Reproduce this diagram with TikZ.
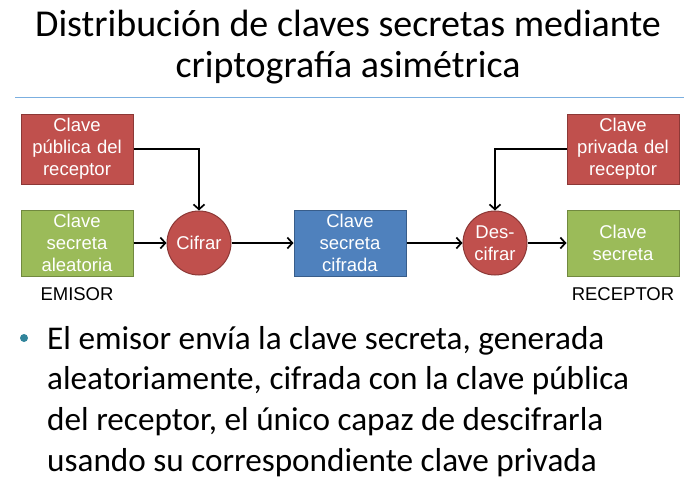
\documentclass[tikz,border=0pt]{standalone}
\usepackage{fontspec}
\setmainfont{Carlito}
\newfontfamily\arialfont{Liberation Sans}
\usepackage{xcolor}
\usetikzlibrary{positioning, arrows.meta}

\definecolor{redfill}{HTML}{C0504D}
\definecolor{redline}{HTML}{8C3836}
\definecolor{greenfill}{HTML}{9BBB59}
\definecolor{greenline}{HTML}{71893F}
\definecolor{bluefill}{HTML}{4F81BD}
\definecolor{blueline}{HTML}{385D8A}
\definecolor{rulecol}{HTML}{7BAFE0}
\definecolor{bulletcol}{HTML}{31849B}

\tikzset{
  keybox/.style={draw, line width=1pt, minimum width=112pt, minimum height=66pt,
    inner sep=0pt, text width=110pt, align=center, text=white,
    font=\arialfont\fontsize{18.5}{22}\selectfont},
  redbox/.style={keybox, fill=redfill, draw=redline, minimum height=70pt},
  greenbox/.style={keybox, fill=greenfill, draw=greenline},
  bluebox/.style={keybox, fill=bluefill, draw=blueline},
  opcircle/.style={circle, draw=redline, fill=redfill, line width=1pt,
    minimum size=64pt, inner sep=0pt, align=center, text=white,
    font=\arialfont\fontsize{18.5}{22}\selectfont},
  flow/.style={line width=1.7pt, -{Straight Barb[length=5pt, width=11pt, line width=1.7pt]}},
  sidelabel/.style={font=\arialfont\fontsize{18.5}{21}\selectfont}
}

\begin{document}
\begin{tikzpicture}[x=1pt, y=-1pt]
        \useasboundingbox (0,0) rectangle (696,480);
        \node (title) at (348,47) [align=center, font=\fontsize{38}{41}\selectfont]
          {Distribución de claves secretas mediante\\criptografía asimétrica};
        \coordinate (ruleL) at (15,97.5);
        \coordinate (ruleR) at (684,97.5);
        \draw [rulecol, line width=1.3pt] (ruleL) -- (ruleR);

        \node (sec) [greenbox] at (77,243) {Clave\\secreta\\aleatoria};
        \node (pub) [redbox, above=25pt of sec] {Clave\\pública del\\receptor};
        \node (cif) [opcircle, right=33pt of sec] {Cifrar};
        \node (cifrada) [bluebox, right=62pt of cif] {Clave\\secreta\\cifrada};
        \node (des) [opcircle, right=56pt of cifrada] {Des-\\cifrar};
        \node (clave) [greenbox, right=39pt of des] {Clave\\secreta};
        \node (priv) [redbox, above=25pt of clave] {Clave\\privada del\\receptor};
        \node (emisor) [sidelabel, below=8pt of sec] {EMISOR};
        \node (receptor) [sidelabel, below=8pt of clave] {RECEPTOR};

        \draw [flow] (sec) -- (cif);
        \draw [flow] (pub) -| (cif);
        \draw [flow] (cif) -- (cifrada);
        \draw [flow] (cifrada) -- (des);
        \draw [flow] (priv) -| (des);
        \draw [flow] (des) -- (clave);

        \node (dot) [circle, fill=bulletcol, inner sep=0pt, minimum size=8pt] at (24,338) {};
        \node (texto) [anchor=north west, inner sep=0pt, align=left,
          font=\fontsize{33.2}{40.7}\selectfont] at (47,326)
          {El emisor envía la clave secreta, generada\\
           aleatoriamente, cifrada con la clave pública\\
           del receptor, el único capaz de descifrarla\\
           usando su correspondiente clave privada};
    \end{tikzpicture}
\end{document}
